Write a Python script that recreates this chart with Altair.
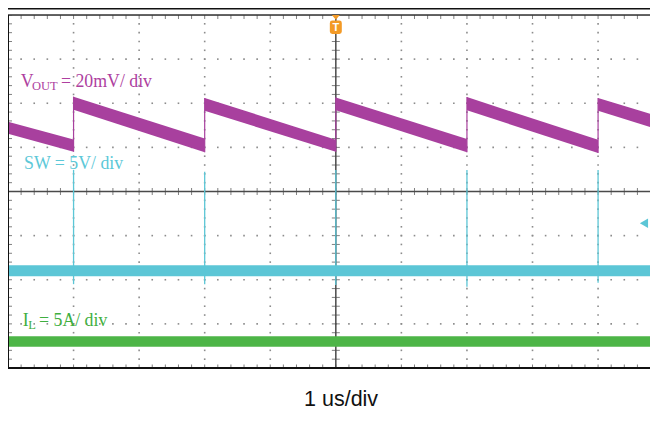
import altair as alt
import pandas as pd

# ---------------- data (time in divisions, 1 us/div; amplitude in divisions) ----------------
X_MAX = 9.792  # visible part of the 10-division screen

# VOUT sawtooth: one segment per switching period (band = trace thickness)
vout_seg_start = [0.0, 1.0, 3.0, 5.0, 7.0, 9.0]
vout_seg_end = [1.0, 3.0, 5.0, 7.0, 9.0, 9.792]
vout_top_start = [1.58, 2.15, 2.12, 2.13, 2.14, 2.12]
vout_top_end = [1.18, 1.20, 1.17, 1.19, 1.17, 1.76]
vout_bot_start = [1.31, 1.85, 1.83, 1.84, 1.84, 1.83]
vout_bot_end = [0.90, 0.89, 0.90, 0.89, 0.87, 1.46]

# VOUT jumps (thin vertical edges)
vout_jump_t = [1.0, 3.0, 5.0, 7.0, 9.0]
vout_jump_low = [0.90, 0.89, 0.90, 0.89, 0.87]
vout_jump_high = [2.15, 2.12, 2.13, 2.14, 2.12]

# SW node: flat band plus narrow spikes at each switching instant
sw_band_t = [0.0, 9.792]
sw_band_top = [-1.67, -1.67]
sw_band_bot = [-1.92, -1.92]
sw_spike_t = [1.0, 3.0, 5.0, 7.0, 9.0]
sw_spike_top = [0.49, 0.45, 0.49, 0.49, 0.49]
sw_spike_bot = [-2.10, -2.10, -2.12, -2.16, -2.07]

# Inductor current: flat band
il_band_t = [0.0, 9.792]
il_band_top = [-3.28, -3.28]
il_band_bot = [-3.52, -3.52]

# channel-level marker (SW) and trigger position
sw_marker = {"t": 9.70, "v": -0.72}
trigger = {"t": 5.0, "v": 3.785}

labels_text = ["V", "OUT", "= 20mV/ div", "SW = 5V/ div", "I", "L", "= 5A/ div"]
labels_t = [0.194, 0.366, 0.808, 0.244, 0.224, 0.310, 0.473]
labels_v = [2.357, 2.289, 2.357, 0.503, -3.048, -3.116, -3.048]
labels_size = [17.8, 12.5, 17.8, 17.8, 17.8, 12.5, 17.8]
labels_ch = ["VOUT", "VOUT", "VOUT", "SW", "IL", "IL", "IL"]

x_title = "1 us/div"

# ---------------- colours ----------------
C_VOUT = "#A8409E"
C_SW = "#5CC6D6"
C_IL = "#4DB547"
C_TRIG = "#F39A26"
C_GRID = "#8C8C8C"
C_AXIS = "#4A4A4A"

W, H = 642, 353
xs = alt.Scale(domain=[0, X_MAX], nice=False, zero=False)
ys = alt.Scale(domain=[-4, 4], nice=False, zero=False)
X = lambda f="t": alt.X(f"{f}:Q", scale=xs, axis=None)
Y = lambda f="v": alt.Y(f"{f}:Q", scale=ys, axis=None)

# ---------------- screen graticule ----------------
minor = [round(0.2 * k, 1) for k in range(0, 51)]
minor_y = [round(-4 + 0.2 * k, 1) for k in range(0, 41)]
dots = []
for gx in [1, 2, 3, 4, 6, 7, 8, 9]:
    for vy in minor_y[1:-1]:
        dots.append({"t": gx, "v": vy})
for gy in [-3, -2, -1, 1, 2, 3]:
    for tx in minor[1:]:
        if tx <= X_MAX:
            dots.append({"t": tx, "v": gy})
dots_df = pd.DataFrame(dots)

grid_dots = alt.Chart(dots_df).mark_square(size=2.6, color=C_GRID, opacity=1).encode(x=X(), y=Y())

xt = pd.DataFrame({"t": [m for m in minor if m <= X_MAX]})
yt = pd.DataFrame({"v": minor_y})

center_h = alt.Chart(pd.DataFrame({"v": [0]})).mark_rule(color=C_AXIS, strokeWidth=1.5).encode(y=Y())
center_v = alt.Chart(pd.DataFrame({"t": [5]})).mark_rule(color=C_AXIS, strokeWidth=1.5).encode(x=X())
ticks_h = alt.Chart(xt.assign(v=0)).mark_tick(orient="vertical", size=7, thickness=1, color=C_AXIS).encode(x=X(), y=Y())
ticks_v = alt.Chart(yt.assign(t=5)).mark_tick(orient="horizontal", size=8, thickness=1, color=C_AXIS).encode(x=X(), y=Y())

edge_top = alt.Chart(xt.assign(v=4)).mark_tick(orient="vertical", size=8, thickness=1, color=C_AXIS, clip=True).encode(x=X(), y=Y())
edge_bot = alt.Chart(xt.assign(v=-4)).mark_tick(orient="vertical", size=7, thickness=1, color=C_AXIS, clip=True).encode(x=X(), y=Y())
edge_left = alt.Chart(yt.assign(t=0)).mark_tick(orient="horizontal", size=8, thickness=1, color=C_AXIS, clip=True).encode(x=X(), y=Y())

frame_top = alt.Chart(pd.DataFrame({"v": [4]})).mark_rule(color="#333333", strokeWidth=1.5).encode(y=Y())
frame_bot = alt.Chart(pd.DataFrame({"v": [-4]})).mark_rule(color="#111111", strokeWidth=2).encode(y=Y())
frame_left = alt.Chart(pd.DataFrame({"t": [0]})).mark_rule(color="#111111", strokeWidth=2).encode(x=X())
top_line = alt.Chart(pd.DataFrame({"a": [0]})).mark_rule(color="#111111", strokeWidth=1.6).encode(
    y=alt.value(-6.2), x=alt.value(-10), x2=alt.value(W + 10)
)

# ---------------- traces ----------------
vrows = []
for i in range(len(vout_seg_start)):
    vrows.append({"seg": i, "t": vout_seg_start[i], "top": vout_top_start[i], "bot": vout_bot_start[i]})
    vrows.append({"seg": i, "t": vout_seg_end[i], "top": vout_top_end[i], "bot": vout_bot_end[i]})
vout_df = pd.DataFrame(vrows)
vout_area = alt.Chart(vout_df).mark_area(color=C_VOUT, opacity=1).encode(
    x=X(), y=Y("top"), y2="bot:Q", detail="seg:N"
)
vout_jumps = alt.Chart(pd.DataFrame({"t": vout_jump_t, "lo": vout_jump_low, "hi": vout_jump_high})).mark_rule(
    color=C_VOUT, strokeWidth=1.2
).encode(x=X(), y=Y("lo"), y2="hi:Q")

sw_band = alt.Chart(pd.DataFrame({"t": sw_band_t, "top": sw_band_top, "bot": sw_band_bot})).mark_area(
    color=C_SW, opacity=1
).encode(x=X(), y=Y("top"), y2="bot:Q")
sw_spikes = alt.Chart(pd.DataFrame({"t": sw_spike_t, "lo": sw_spike_bot, "hi": sw_spike_top})).mark_rule(
    color=C_SW, strokeWidth=1.3
).encode(x=X(), y=Y("lo"), y2="hi:Q")

il_band = alt.Chart(pd.DataFrame({"t": il_band_t, "top": il_band_top, "bot": il_band_bot})).mark_area(
    color=C_IL, opacity=1
).encode(x=X(), y=Y("top"), y2="bot:Q")

sw_mark = alt.Chart(pd.DataFrame([sw_marker])).mark_point(
    shape="triangle-left", size=90, filled=True, color=C_SW, opacity=1
).encode(x=X(), y=Y())

trig_path = (
    "M -0.42 -1 L 0.42 -1 L 0 -0.5 Z "
    "M -0.37 -0.42 L 0.37 -0.42 Q 0.63 -0.42 0.63 -0.16 L 0.63 0.74 Q 0.63 1 0.37 1 "
    "L -0.37 1 Q -0.63 1 -0.63 0.74 L -0.63 -0.16 Q -0.63 -0.42 -0.37 -0.42 Z"
)
trig_mark = alt.Chart(pd.DataFrame([trigger])).mark_point(
    shape=trig_path, size=361, filled=True, color=C_TRIG, opacity=1
).encode(x=X(), y=Y())
trig_text = alt.Chart(pd.DataFrame([{"t": trigger["t"], "v": trigger["v"] - 0.07, "s": "T"}])).mark_text(
    color="white", fontSize=11, fontWeight="bold", font="Liberation Sans", baseline="middle", align="center"
).encode(x=X(), y=Y(), text="s:N")

# ---------------- labels ----------------
lab_df = pd.DataFrame({"s": labels_text, "t": labels_t, "v": labels_v, "fs": labels_size, "ch": labels_ch})
lab = alt.Chart(lab_df).mark_text(font="Liberation Serif", align="left", baseline="alphabetic").encode(
    x=X(), y=Y(), text="s:N",
    size=alt.Size("fs:Q", scale=None, legend=None),
    color=alt.Color("ch:N", scale=alt.Scale(domain=["VOUT", "SW", "IL"], range=["#AE3FA0", "#5CC8D8", "#3FAF3F"]), legend=None),
)

title = alt.Chart(pd.DataFrame({"t": [5.08], "v": [-4.86], "s": [x_title]})).mark_text(
    font="Liberation Sans", fontSize=21.5, align="center", baseline="alphabetic", color="#111111"
).encode(x=X(), y=Y(), text="s:N")

chart = alt.layer(
    grid_dots, center_h, center_v, ticks_h, ticks_v, edge_top, edge_bot, edge_left,
    vout_area, vout_jumps, sw_band, sw_spikes, il_band,
    frame_top, frame_bot, frame_left, top_line,
    sw_mark, trig_mark, trig_text, lab, title,
).properties(
    width=W, height=H,
    autosize=alt.AutoSizeParams(type="none"),
    padding={"left": 0, "right": 0, "top": 7, "bottom": 43},
).configure_view(stroke=None).configure(background="white")

chart.save("out.html", embed_options={"renderer": "svg", "actions": False})
